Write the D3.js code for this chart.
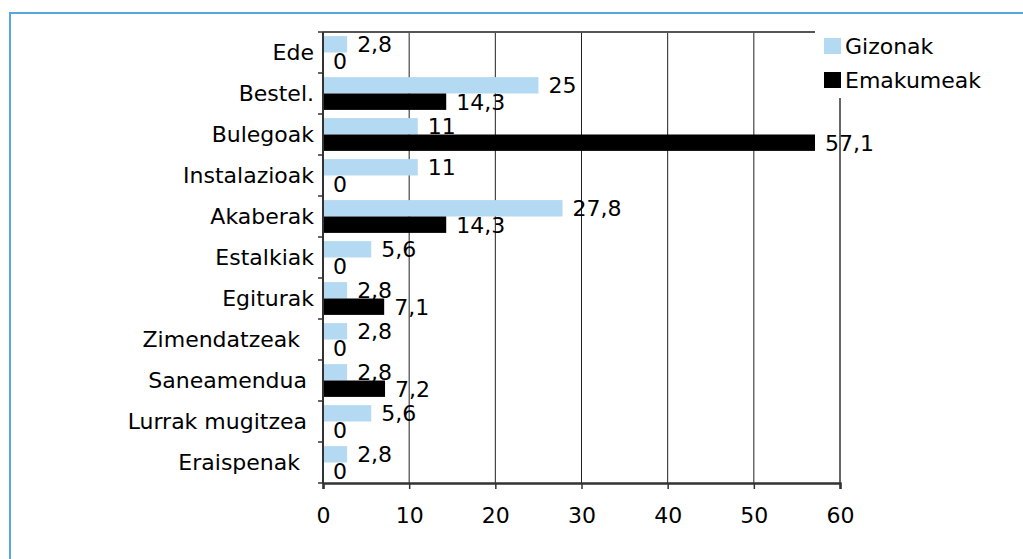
<!DOCTYPE html>
<html>
  <script src="https://cdn.jsdelivr.net/npm/d3@7"></script>
  <style>
    body { margin: 0; background: #fff; }
    text { font-family: "DejaVu Sans", Verdana, sans-serif; font-size: 22px; fill: #000; white-space: pre; }
  </style>
  <body>
    <script>
// data, top category first
var categories = ['Ede', 'Bestel.', 'Bulegoak', 'Instalazioak', 'Akaberak', 'Estalkiak',
                  'Egiturak', 'Zimendatzeak  ', 'Saneamendua ', 'Lurrak mugitzea ', 'Eraispenak  ']
var series = ['Gizonak', 'Emakumeak']
var gizonak   = [2.8, 25, 11, 11, 27.8, 5.6, 2.8, 2.8, 2.8, 5.6, 2.8]
var emakumeak = [0, 14.3, 57.1, 0, 14.3, 0, 7.1, 0, 7.2, 0, 0]
var xTicks = [0, 10, 20, 30, 40, 50, 60]
var colors = ['#b3daf2', '#000000']

var W = 1023, H = 559
  , pLeft = 323, pRight = 840, pTop = 32, pBottom = 483
  , fs = '22px'
  , fmt = function(v){ return String(v).replace('.', ',') }

var svg = d3.select('body').append('svg').attr('width', W).attr('height', H)

var x = d3.scaleLinear().domain([0, 60]).range([pLeft, pRight])
var y = d3.scaleBand().domain(categories).range([pTop, pBottom]).paddingInner(0.2).paddingOuter(0.1)
var sub = d3.scaleBand().domain(series).range([0, y.bandwidth()])

var rows = categories.map(function(c, i){ return { cat: c, vals: [gizonak[i], emakumeak[i]] } })

// outer frame, only left/top edges fall inside the window
svg.append('rect').attr('x', 10).attr('y', 13).attr('width', 1200).attr('height', 700)
  .attr('fill', 'none').attr('stroke', '#55a8e0').attr('stroke-width', 2)

// grid lines
svg.append('g').selectAll('line').data(xTicks.slice(1, -1)).enter().append('line')
  .attr('x1', x).attr('x2', x).attr('y1', pTop).attr('y2', pBottom)
  .attr('stroke', '#222').attr('stroke-width', 1)

// plot frame top & right
svg.append('line').attr('x1', pLeft).attr('x2', pRight).attr('y1', pTop).attr('y2', pTop)
  .attr('stroke', '#555').attr('stroke-width', 2)
svg.append('line').attr('x1', pRight).attr('x2', pRight).attr('y1', pTop).attr('y2', pBottom)
  .attr('stroke', '#666').attr('stroke-width', 2)

// bars
var g = svg.append('g').selectAll('g').data(rows).enter().append('g')
  .attr('transform', function(d){ return 'translate(0,' + y(d.cat) + ')' })

g.selectAll('rect').data(function(d){ return d.vals.map(function(v, j){ return { v: v, s: series[j], j: j } }) })
  .enter().append('rect')
    .attr('x', x(0)).attr('y', function(d){ return sub(d.s) })
    .attr('width', function(d){ return x(d.v) - x(0) })
    .attr('height', sub.bandwidth())
    .attr('fill', function(d){ return colors[d.j] })

g.selectAll('text').data(function(d){ return d.vals.map(function(v, j){ return { v: v, s: series[j] } }) })
  .enter().append('text')
    .attr('x', function(d){ return x(d.v) + 10 })
    .attr('y', function(d){ return sub(d.s) + sub.bandwidth() / 2 })
    .attr('dy', '0.36em')
    .text(function(d){ return fmt(d.v) })

// y axis with category labels
var yAxis = d3.axisLeft(y).tickSize(0).tickPadding(9)
var ya = svg.append('g').attr('transform', 'translate(' + pLeft + ',0)').call(yAxis)
ya.select('.domain').remove()
ya.selectAll('text').attr('fill', '#000').style('font-size', fs)
ya.append('line').attr('y1', pTop).attr('y2', pBottom + 1).attr('stroke', '#333').attr('stroke-width', 2)
ya.selectAll('.sep').data(d3.range(categories.length + 1)).enter().append('line')
  .attr('class', 'sep').attr('x1', -5).attr('x2', 0)
  .attr('y1', function(i){ return pTop + i * y.step() }).attr('y2', function(i){ return pTop + i * y.step() })
  .attr('stroke', '#333').attr('stroke-width', 1.5)

// x axis
var xAxis = d3.axisBottom(x).tickValues(xTicks).tickSize(6).tickPadding(18).tickFormat(d3.format('d'))
var xa = svg.append('g').attr('transform', 'translate(0,' + pBottom + ')').call(xAxis)
xa.select('.domain').attr('stroke', '#333').attr('stroke-width', 2.5)
xa.selectAll('.tick line').attr('stroke', '#333').attr('stroke-width', 1.5)
xa.selectAll('text').attr('fill', '#000').style('font-size', fs)

// legend, white box covers the frame corner
var lg = svg.append('g').attr('transform', 'translate(815,20)')
lg.append('rect').attr('width', 190).attr('height', 78).attr('fill', '#fff')
var li = lg.selectAll('.item').data(series).enter().append('g')
  .attr('transform', function(d, i){ return 'translate(9,' + (18 + i * 34) + ')' })
li.append('rect').attr('width', 17).attr('height', 16).attr('fill', function(d, i){ return colors[i] })
li.append('text').attr('x', 21).attr('y', 8).attr('dy', '0.36em').text(function(d){ return d })
    </script>
  </body>
</html>
